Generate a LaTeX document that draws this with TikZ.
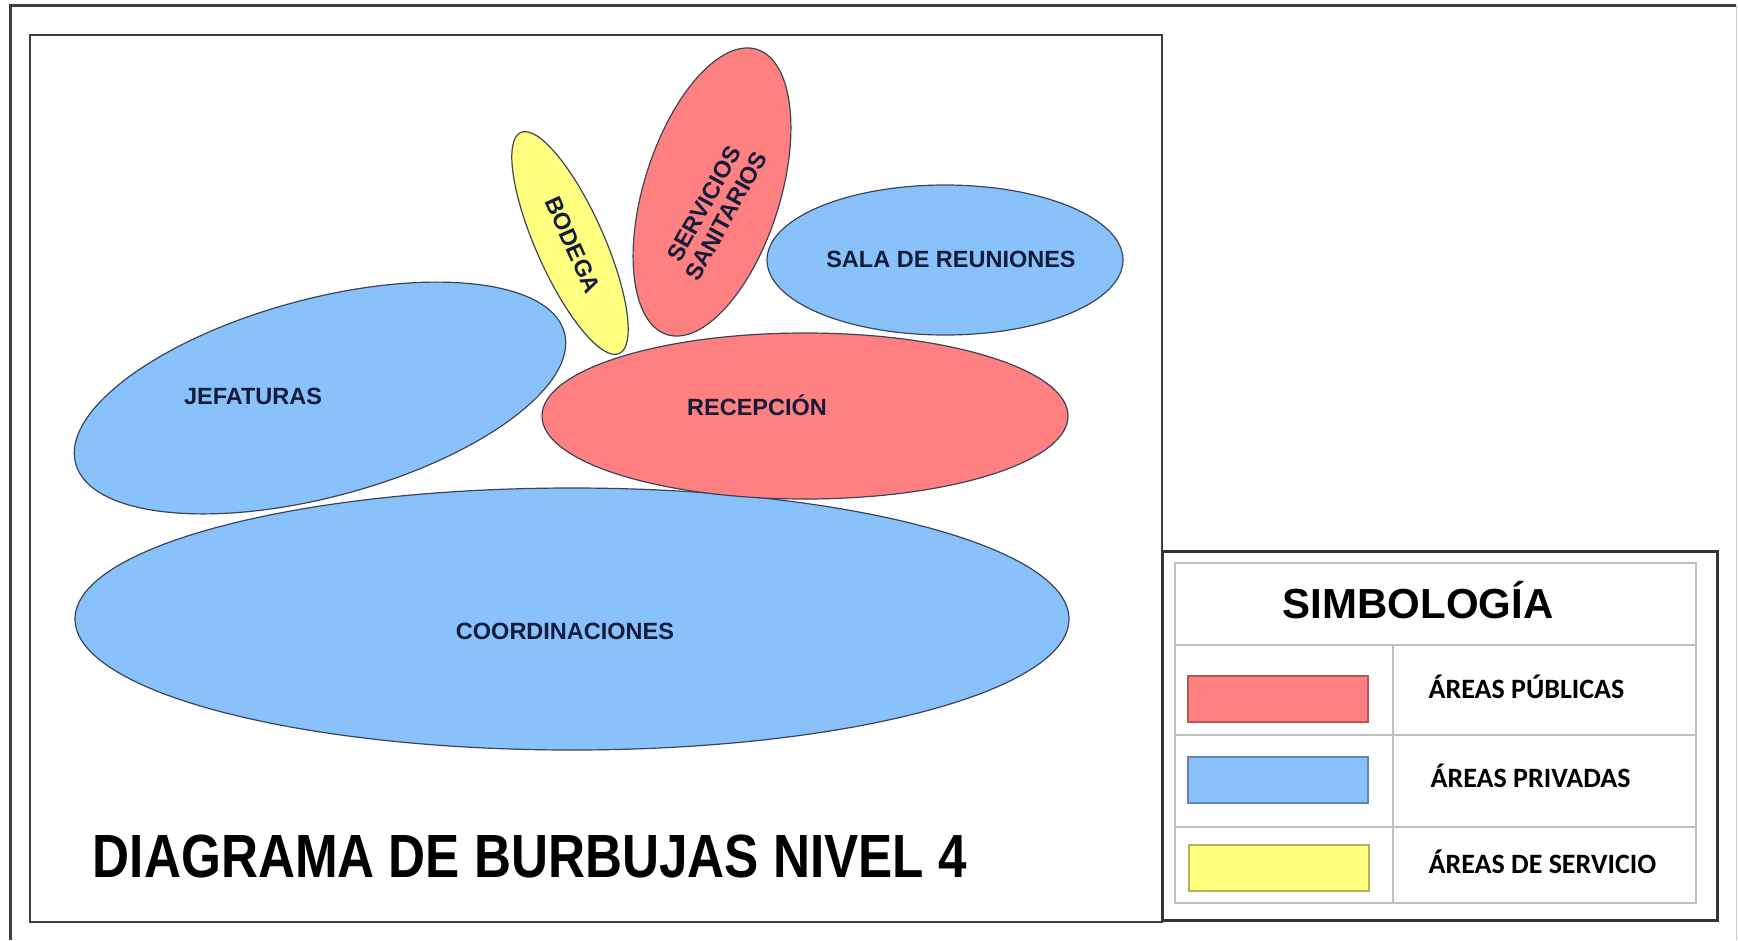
\documentclass[tikz,border=0pt]{standalone}
\usepackage{fontspec}
\setmainfont{Liberation Sans}
\newfontfamily\legendfont{Carlito}
\usepackage{tikz}
\usetikzlibrary{shapes.geometric}

\definecolor{publico}{RGB}{255,128,128}
\definecolor{privado}{RGB}{137,193,250}
\definecolor{servicio}{RGB}{255,255,128}
\definecolor{tinta}{RGB}{20,28,60}
\definecolor{borde}{RGB}{60,68,86}

\begin{document}
\begin{tikzpicture}[x=1pt,y=-1pt,
  bubble/.style={ellipse,draw=borde,line width=1.2pt,inner sep=0pt},
  bubtext/.style={text=tinta,font=\bfseries\fontsize{23.5}{25}\selectfont,align=center},
  swatch/.style={rectangle,line width=1.5pt,minimum width=180pt,minimum height=46pt,inner sep=0pt},
  legtext/.style={anchor=base west,font=\legendfont\bfseries\fontsize{28}{30}\selectfont}]
\useasboundingbox (0,0) rectangle (1738,940);
% frames
\draw[line width=3pt,black!75] (10,940) -- (10,5) -- (1736,5);
\draw[line width=1pt,black!20] (1736,5) -- (1736,940);
\draw[line width=2pt,black!75] (30,35) rectangle (1162,922);
% bubbles
\node[bubble,fill=privado,minimum width=994pt,minimum height=262pt] (coord) at (572,619) {};
\node[bubble,fill=privado,minimum width=506pt,minimum height=198pt,rotate=15] (jef) at (320,398) {};
\node[bubble,fill=publico,minimum width=526pt,minimum height=166pt] (recep) at (805,416) {};
\node[bubble,fill=servicio,minimum width=242pt,minimum height=68pt,rotate=-66] (bod) at (570,243) {};
\node[bubble,fill=publico,minimum width=299pt,minimum height=136pt,rotate=72.5] (serv) at (712,192) {};
\node[bubble,fill=privado,minimum width=356pt,minimum height=150pt] (sala) at (945,260) {};
% labels
\node[bubtext] (lcoord) at (565,631) {COORDINACIONES};
\node[bubtext] (ljef) at (253,396) {JEFATURAS};
\node[bubtext] (lrecep) at (757,405) {RECEPCIÓN};
\node[bubtext,rotate=-66] (lbod) at (573,245) {BODEGA};
\node[bubtext,rotate=61] (lserv) at (715,210) {SERVICIOS\\SANITARIOS};
\node[bubtext] (lsala) at (951,259) {SALA DE REUNIONES};
\node[font=\bfseries\fontsize{61}{61}\selectfont,xscale=0.84] (titulo) at (530,856) {DIAGRAMA DE BURBUJAS NIVEL 4};
% legend
\draw[line width=3pt,black!80] (1162,551) rectangle (1717,920);
\draw[line width=2pt,black!25] (1175,563) rectangle (1696,903);
\draw[line width=2pt,black!25] (1175,645) -- (1696,645);
\draw[line width=2pt,black!25] (1175,735) -- (1696,735);
\draw[line width=2pt,black!25] (1175,827) -- (1696,827);
\draw[line width=2pt,black!25] (1393,645) -- (1393,903);
\node[font=\bfseries\fontsize{42}{44}\selectfont] (simb) at (1418,600) {SIMBOLOGÍA};
\node[swatch,fill=publico,draw=publico!70!black] (swpub) at (1278,699) {};
\node[swatch,fill=privado,draw=privado!70!black] (swpri) at (1278,780) {};
\node[swatch,fill=servicio,draw=servicio!70!black] (swser) at (1279,868) {};
\node[legtext] (tpub) at (1425,698) {ÁREAS PÚBLICAS};
\node[legtext] (tpri) at (1427,787) {ÁREAS PRIVADAS};
\node[legtext] (tser) at (1425,873) {ÁREAS DE SERVICIO};
\end{tikzpicture}
\end{document}
